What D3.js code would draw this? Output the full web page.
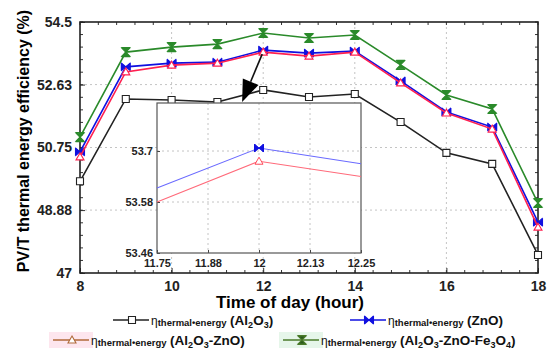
<!DOCTYPE html>
<html>
<head>
<meta charset="utf-8">
<script src="https://cdn.jsdelivr.net/npm/d3@7"></script>
<style>
  body { margin: 0; background: #fff; }
  text { font-family: Arial, "Liberation Sans", sans-serif; }
</style>
</head>
<body>
<div class="chart"></div>
<script>
// data
var hours = [8, 9, 10, 11, 12, 13, 14, 15, 16, 17, 18];
var al2o3 = [49.74, 52.2, 52.17, 52.11, 52.47, 52.26, 52.35, 51.51, 50.59, 50.26, 47.54];
var zno = [50.62, 53.16, 53.27, 53.30, 53.66, 53.57, 53.63, 52.74, 51.81, 51.36, 48.52];
var al2o3Zno = [50.47, 53.01, 53.21, 53.27, 53.60, 53.48, 53.60, 52.68, 51.78, 51.30, 48.37];
var ternary = [51.06, 53.60, 53.75, 53.84, 54.17, 54.02, 54.11, 53.22, 52.32, 51.90, 49.09];
var yTicks = [47, 48.88, 50.75, 52.63, 54.5];
var xTicks = [8, 10, 12, 14, 16, 18];

// inset (zoom around noon)
var insetHours = [11.75, 12, 12.25];
var insetZno = [53.613, 53.707, 53.67];
var insetAl2o3Zno = [53.58, 53.676, 53.64];
var insetXTicks = [11.75, 11.875, 12, 12.125, 12.25];
var insetXLabels = ["11.75", "11.88", "12", "12.13", "12.25"];
var insetYTicks = [53.46, 53.58, 53.7];
var insetYLabels = ["53.46", "53.58", "53.7"];

var svgWidth = 550;
var svgHeight = 358;
var margin = { top: 22, right: 12, bottom: 85, left: 80 };
var chartWidth = svgWidth - margin.left - margin.right;
var chartHeight = svgHeight - margin.top - margin.bottom;

var svg = d3.select(".chart")
  .append("svg")
  .attr("width", svgWidth)
  .attr("height", svgHeight);

var chartGroup = svg.append("g")
  .attr("transform", `translate(${margin.left}, ${margin.top})`);

var x = d3.scaleLinear().domain([8, 18]).range([0, chartWidth]);
var y = d3.scaleLinear().domain([47, 54.5]).range([chartHeight, 0]);

// dotted grid
chartGroup.append("g").selectAll("line")
  .data(xTicks.slice(1, -1))
  .enter().append("line")
  .attr("x1", d => x(d)).attr("x2", d => x(d))
  .attr("y1", 0).attr("y2", chartHeight)
  .attr("stroke", "#c4c4c4").attr("stroke-dasharray", "2,3");
chartGroup.append("g").selectAll("line")
  .data(yTicks.slice(1, -1))
  .enter().append("line")
  .attr("y1", d => y(d)).attr("y2", d => y(d))
  .attr("x1", 0).attr("x2", chartWidth)
  .attr("stroke", "#c4c4c4").attr("stroke-dasharray", "2,3");

// axes with inward ticks
var minorX = d3.range(8, 18.01, 0.4);
var minorY = d3.range(47, 54.51, 0.375);

var bottomAxis = d3.axisBottom(x).tickValues(xTicks).tickSize(-5).tickPadding(8).tickFormat(d3.format("d"));
var leftAxis = d3.axisLeft(y).tickValues(yTicks).tickSize(-5).tickPadding(8).tickFormat(d => d);

var xAxis = chartGroup.append("g")
  .attr("transform", `translate(0, ${chartHeight})`)
  .call(bottomAxis);
var yAxis = chartGroup.append("g").call(leftAxis);

[xAxis, yAxis].forEach(function(a) {
  a.select(".domain").remove();
  a.selectAll("text").attr("font-size", "14px").attr("font-weight", "bold").attr("fill", "#222");
  a.selectAll("line").attr("stroke", "#333");
});

// minor ticks on all four sides
chartGroup.append("g").selectAll("line")
  .data(minorX).enter().append("line")
  .attr("x1", d => x(d)).attr("x2", d => x(d))
  .attr("y1", 0).attr("y2", 3).attr("stroke", "#333");
chartGroup.append("g").selectAll("line")
  .data(minorX).enter().append("line")
  .attr("x1", d => x(d)).attr("x2", d => x(d))
  .attr("y1", chartHeight).attr("y2", chartHeight - 3).attr("stroke", "#333");
chartGroup.append("g").selectAll("line")
  .data(minorY).enter().append("line")
  .attr("y1", d => y(d)).attr("y2", d => y(d))
  .attr("x1", chartWidth).attr("x2", chartWidth - 3).attr("stroke", "#333");
chartGroup.append("g").selectAll("line")
  .data(minorY).enter().append("line")
  .attr("y1", d => y(d)).attr("y2", d => y(d))
  .attr("x1", 0).attr("x2", 3).attr("stroke", "#333");

chartGroup.append("rect")
  .attr("width", chartWidth).attr("height", chartHeight)
  .attr("fill", "none").attr("stroke", "#222").attr("stroke-width", 1.6);

// marker shapes
var markers = {
  square: "M-3.5,-3.5H3.5V3.5H-3.5Z",
  triangle: "M0,-4L4,3L-4,3Z",
  bowtie: "M-4,-3.5L0,0L-4,3.5ZM4,-3.5L0,0L4,3.5ZM-4.5,-4V4M4.5,-4V4",
  hourglass: "M-4,-4L4,-4L0,0ZM-4,4L4,4L0,0ZM-4.5,-4.5H4.5M-4.5,4.5H4.5"
};

var series = [
  { vals: al2o3, color: "#222", marker: "square", fill: "#fff" },
  { vals: zno, color: "#1010e0", marker: "bowtie", fill: "#1010e0" },
  { vals: al2o3Zno, color: "#ff2050", marker: "triangle", fill: "#fff" },
  { vals: ternary, color: "#2a8a2a", marker: "hourglass", fill: "#2a8a2a" }
];

var line = d3.line().x((d, i) => x(hours[i])).y(d => y(d));

series.forEach(function(s) {
  chartGroup.append("path")
    .datum(s.vals)
    .attr("d", line)
    .attr("fill", "none")
    .attr("stroke", s.color)
    .attr("stroke-width", 1.6);
  chartGroup.selectAll(null)
    .data(s.vals).enter().append("path")
    .attr("transform", (d, i) => `translate(${x(hours[i])}, ${y(d)})`)
    .attr("d", markers[s.marker])
    .attr("fill", s.fill)
    .attr("stroke", s.color)
    .attr("stroke-width", 1.1);
});

// arrow from the noon point down to the inset
var ax1 = x(12) - 1, ay1 = y(zno[4]) + 4;
var ax2 = x(11.54), ay2 = y(52.11);
var dx = ax2 - ax1, dy = ay2 - ay1, len = Math.sqrt(dx * dx + dy * dy);
var ux = dx / len, uy = dy / len;
var bx = ax2 - 22 * ux, by = ay2 - 22 * uy;
chartGroup.append("line")
  .attr("x1", ax1).attr("y1", ay1).attr("x2", bx).attr("y2", by)
  .attr("stroke", "#111").attr("stroke-width", 1.6);
chartGroup.append("path")
  .attr("d", `M${ax2},${ay2} L${bx - 8.5 * uy},${by + 8.5 * ux} L${bx + 8.5 * uy},${by - 8.5 * ux} Z`)
  .attr("fill", "#000");

// inset chart
var inset = { left: 77, top: 81, width: 204, height: 150 };
var insetGroup = chartGroup.append("g")
  .attr("transform", `translate(${inset.left}, ${inset.top})`);

var ix = d3.scaleLinear().domain([11.75, 12.25]).range([0, inset.width]);
var iy = d3.scaleLinear().domain([53.46, 53.813]).range([inset.height, 0]);

insetGroup.append("rect")
  .attr("width", inset.width).attr("height", inset.height)
  .attr("fill", "#fff");

insetGroup.append("g").selectAll("line")
  .data(insetXTicks.slice(1, -1)).enter().append("line")
  .attr("x1", d => ix(d)).attr("x2", d => ix(d))
  .attr("y1", 0).attr("y2", inset.height)
  .attr("stroke", "#c4c4c4").attr("stroke-dasharray", "2,3");
insetGroup.append("g").selectAll("line")
  .data(insetYTicks.slice(1)).enter().append("line")
  .attr("y1", d => iy(d)).attr("y2", d => iy(d))
  .attr("x1", 0).attr("x2", inset.width)
  .attr("stroke", "#c4c4c4").attr("stroke-dasharray", "2,3");

var insetBottom = d3.axisBottom(ix).tickValues(insetXTicks).tickSize(-3).tickPadding(6)
  .tickFormat((d, i) => insetXLabels[i]);
var insetLeft = d3.axisLeft(iy).tickValues(insetYTicks).tickSize(-3).tickPadding(4)
  .tickFormat((d, i) => insetYLabels[i]);

var ixAxis = insetGroup.append("g")
  .attr("transform", `translate(0, ${inset.height})`)
  .call(insetBottom);
var iyAxis = insetGroup.append("g").call(insetLeft);
[ixAxis, iyAxis].forEach(function(a) {
  a.select(".domain").remove();
  a.selectAll("text").attr("font-size", "11px").attr("font-weight", "bold").attr("fill", "#222");
  a.selectAll("line").attr("stroke", "#444");
});

insetGroup.append("rect")
  .attr("width", inset.width).attr("height", inset.height)
  .attr("fill", "none").attr("stroke", "#555").attr("stroke-width", 1.2);

var iline = d3.line().x((d, i) => ix(insetHours[i])).y(d => iy(d));
insetGroup.append("path").datum(insetZno).attr("d", iline)
  .attr("fill", "none").attr("stroke", "#6a6aff").attr("stroke-width", 1.1);
insetGroup.append("path").datum(insetAl2o3Zno).attr("d", iline)
  .attr("fill", "none").attr("stroke", "#ff6a7a").attr("stroke-width", 1.1);
insetGroup.append("path")
  .attr("transform", `translate(${ix(12)}, ${iy(insetZno[1])})`)
  .attr("d", markers.bowtie).attr("fill", "#1010e0").attr("stroke", "#1010e0").attr("stroke-width", 1);
insetGroup.append("path")
  .attr("transform", `translate(${ix(12)}, ${iy(insetAl2o3Zno[1])})`)
  .attr("d", markers.triangle).attr("fill", "#fff").attr("stroke", "#ff4a5a").attr("stroke-width", 1);

// axis titles
svg.append("text")
  .attr("x", 290).attr("y", 308)
  .attr("text-anchor", "middle")
  .attr("font-size", "17px").attr("font-weight", "bold")
  .text("Time of day (hour)");

svg.append("text")
  .attr("transform", `translate(29, 141) rotate(-90)`)
  .attr("text-anchor", "middle")
  .attr("font-size", "16px").attr("font-weight", "bold")
  .text("PV/T thermal energy efficiency (%)");

// legend
var legendItems = [
  { x: 113, y: 320, color: "#222", marker: "square", fill: "#fff", label: ["(Al", "2", "O", "3", ")"] },
  { x: 350, y: 320, color: "#1010e0", marker: "bowtie", fill: "#1010e0", label: ["(ZnO)"] },
  { x: 53, y: 340, color: "#b06a3a", marker: "triangle", fill: "#fff", bg: "#fde6ee", label: ["(Al", "2", "O", "3", "-ZnO)"] },
  { x: 283, y: 340, color: "#4a7a2a", marker: "hourglass", fill: "#2a5a1a", bg: "#e6f6ea", label: ["(Al", "2", "O", "3", "-ZnO-Fe", "3", "O", "4", ")"] }
];

legendItems.forEach(function(it) {
  var g = svg.append("g").attr("transform", `translate(${it.x}, ${it.y})`);
  if (it.bg) {
    g.append("rect").attr("x", -4).attr("y", -8).attr("width", 44).attr("height", 16).attr("fill", it.bg);
  }
  g.append("line").attr("x1", 0).attr("x2", 36).attr("y1", 0).attr("y2", 0)
    .attr("stroke", it.color).attr("stroke-width", 1.5);
  g.append("path").attr("transform", "translate(19,0)").attr("d", markers[it.marker])
    .attr("fill", it.fill).attr("stroke", it.color).attr("stroke-width", 1.1);
  var t = g.append("text").attr("x", 38).attr("y", 5).attr("fill", "#111");
  t.append("tspan").attr("font-size", "12px").text("η");
  t.append("tspan").attr("font-size", "9.5px").attr("font-weight", "bold").attr("dy", 1).text("thermal•energy");
  t.append("tspan").attr("font-size", "13px").attr("dy", -1).text(" ");
  it.label.forEach(function(part, i) {
    var sub = i % 2 === 1;
    t.append("tspan")
      .attr("font-size", sub ? "9px" : "13.5px")
      .attr("font-weight", "bold")
      .attr("dy", sub ? 3 : (i > 0 ? -3 : 0))
      .text(part);
  });
});
</script>
</body>
</html>
